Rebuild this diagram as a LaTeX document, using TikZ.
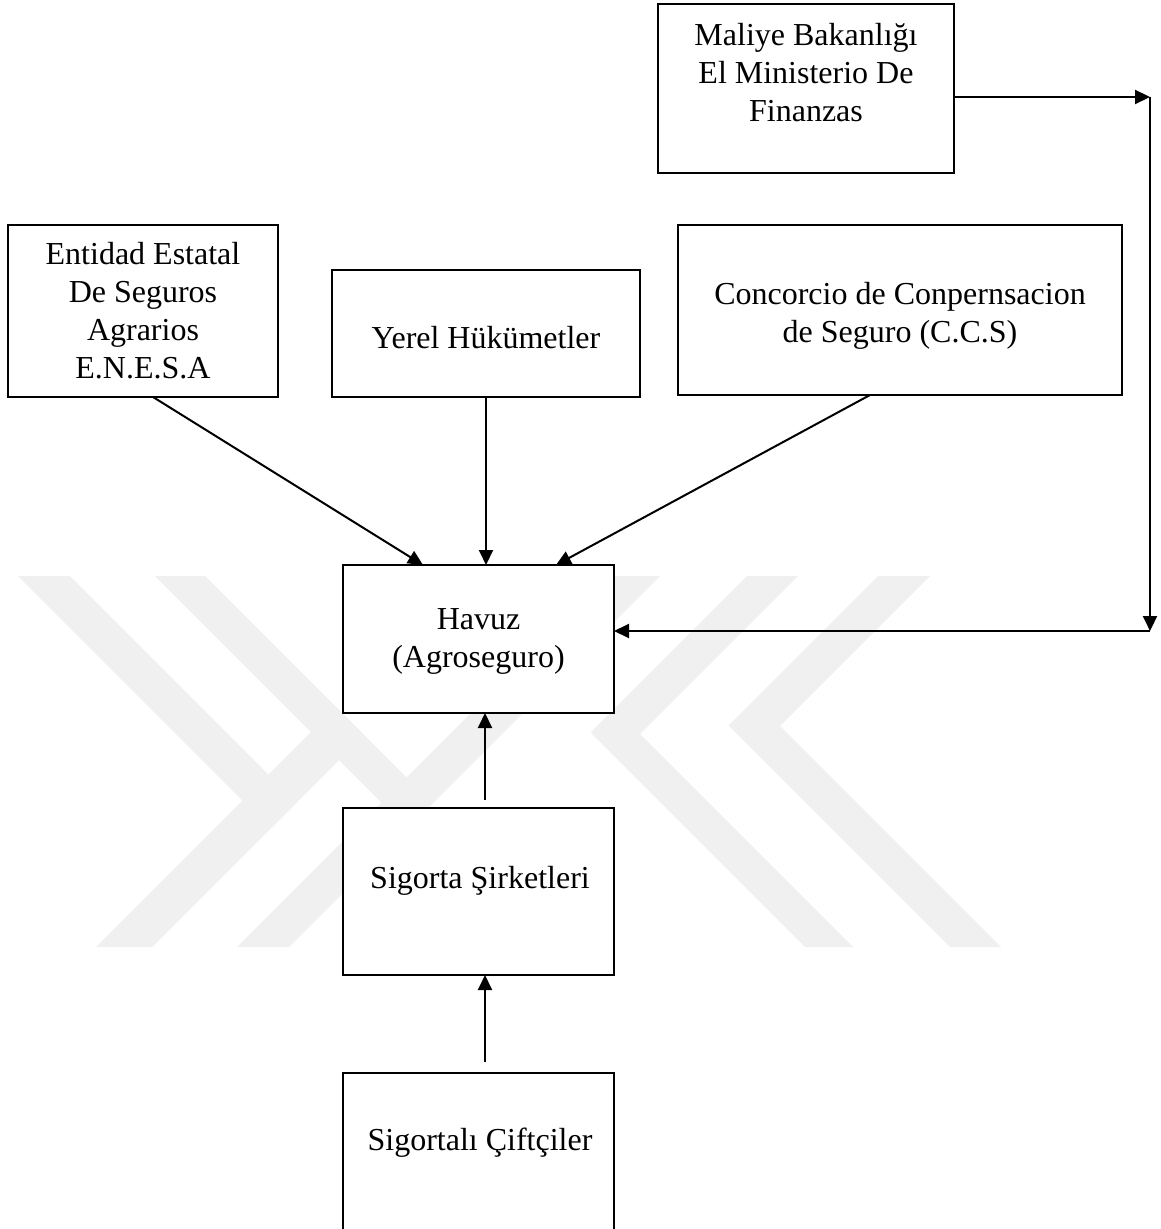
\documentclass[tikz,border=0pt]{standalone}
\usepackage{fontspec}
\setmainfont{Liberation Serif}
\usetikzlibrary{arrows.meta,calc}
\definecolor{wm}{RGB}{240,240,240}
\begin{document}
\begin{tikzpicture}[x=0.5pt,y=-0.5pt,
  box/.style={draw, line width=1pt, fill=white, rectangle, inner sep=0pt, outer sep=0pt, anchor=north west},
  txt/.style={align=center, font=\fontsize{16}{19}\selectfont, inner sep=0pt},
  arr/.style={line width=1pt, -{Triangle[length=7.5pt,width=7pt]}},
  wmark/.style={fill=wm, draw=none}]
\useasboundingbox (0,0) rectangle (1160,1229);
\fill[white] (0,0) rectangle (1160,1229);
% watermark
\fill[wmark] (18,576) -- (70,576) -- (296.5,802.5) -- (270.5,828.5) -- cycle;
\fill[wmark] (96,947) -- (152,947) -- (364,735) -- (336,707) -- cycle;
\fill[wmark] (155,576) -- (205,576) -- (432.5,803.5) -- (407.5,828.5) -- cycle;
\fill[wmark] (608,576) -- (660,576) -- (289,947) -- (237,947) -- cycle;
\fill[wmark] (747,576) -- (590.5,732.5) -- (805,947) -- (853,947) -- (640,734) -- (798,576) -- cycle;
\fill[wmark] (878,576) -- (728.5,725.5) -- (950,947) -- (1001,947) -- (780,726) -- (930,576) -- cycle;
% boxes
\node[box, minimum width=148pt, minimum height=84.5pt] (mal) at (658,4) {};
\node[box, minimum width=135pt, minimum height=86pt] (ent) at (8,225) {};
\node[box, minimum width=154pt, minimum height=63.5pt] (yer) at (332,270) {};
\node[box, minimum width=222pt, minimum height=85pt] (con) at (678,225) {};
\node[box, minimum width=135.5pt, minimum height=74pt] (hav) at (343,565) {};
\node[box, minimum width=135.5pt, minimum height=83.5pt] (sig) at (343,808) {};
\node[box, minimum width=135.5pt, minimum height=93.5pt] (cif) at (343,1073) {};
% texts
\node[txt] (maltx) at (806,73) {Maliye Bakanlığı\\El Ministerio De\\Finanzas};
\node[txt] (enttx) at (143,311) {Entidad Estatal\\De Seguros\\Agrarios\\E.N.E.S.A};
\node[txt] (yertx) at (486,338) {Yerel Hükümetler};
\node[txt] (contx) at (900,316) {Concorcio de Conpernsacion\\de Seguro (C.C.S)};
\node[txt] (havtx) at (478.5,641) {Havuz\\(Agroseguro)};
\node[txt] (sigtx) at (480,881) {Sigorta Şirketleri};
\node[txt] (ciftx) at (480,1143) {Sigortalı Çiftçiler};
% connectors
\draw[arr] ([xshift=5pt]ent.south) -- ([xshift=-27.75pt]hav.north);
\draw[arr] (yer.south) -- (yer.south |- hav.north);
\draw[arr] ([xshift=-15pt]con.south) -- ([xshift=38.75pt]hav.north);
\coordinate (c1) at (1150,97);
\coordinate (c2) at (1150,631);
\draw[arr] (mal.east |- c1) -- (c1);
\draw[arr] (c1) -- (c2);
\draw[arr] (c2) -- (c2 -| hav.east);
\draw[arr] ([xshift=3.25pt,yshift=4pt]sig.north) -- ([xshift=3.25pt]hav.south);
\draw[arr] ([xshift=3.25pt,yshift=5.5pt]cif.north) -- ([xshift=3.25pt]sig.south);
\end{tikzpicture}
\end{document}
